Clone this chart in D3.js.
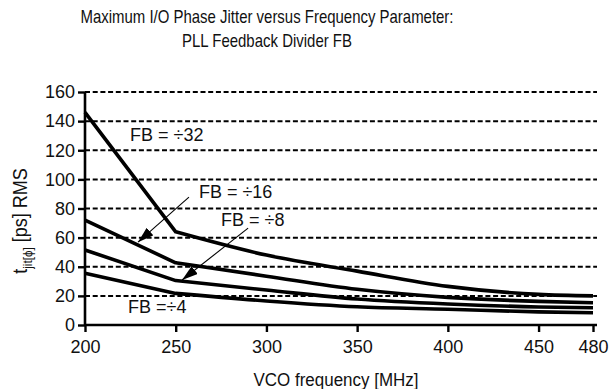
<!DOCTYPE html>
<html>
<head>
<meta charset="utf-8">
<script src="https://cdn.jsdelivr.net/npm/d3@7"></script>
<style>
  body { margin: 0; background: #fff; }
  text { font-family: "Liberation Sans", Arial, sans-serif; fill: #111; }
</style>
</head>
<body>
<div id="chart"></div>
<script>
// Dados
var freq = [200, 250, 300, 350, 400, 450, 480];
var fb32 = [146, 64, 48, 37, 26.5, 21, 20];
var fb16 = [72, 42.7, 33.5, 24.5, 19, 16.2, 15.3];
var fb8 = [51.5, 30.5, 24, 17.8, 14.4, 12.4, 11.8];
var fb4 = [35.5, 21.7, 16.5, 12.5, 10.8, 9, 8.4];

var xTicks = [200, 250, 300, 350, 400, 450, 480];
var yTicks = [0, 20, 40, 60, 80, 100, 120, 140, 160];

// rótulos e setas (em unidades dos dados)
var labels = [
  { text: "FB = \u00F732", x: 224.8, y: 126.2 },
  { text: "FB = \u00F716", x: 262.8, y: 87.1 },
  { text: "FB = \u00F78", x: 275, y: 68.1 },
  { text: "FB =\u00F74", x: 223.7, y: 8.2 }
];
var arrows = [
  { x1: 257.3, y1: 87.8, x2: 229.2, y2: 56.9 },
  { x1: 289.9, y1: 66.5, x2: 253.5, y2: 30.9 }
];

var svgWidth = 609, svgHeight = 389;
var margin = { top: 92, right: 16, bottom: 64, left: 85 };
var width = 593 - margin.left;
var height = 325 - margin.top;

var svg = d3.select('#chart').append('svg')
  .attr('width', svgWidth)
  .attr('height', svgHeight);

// Título (fonte estreita simulada com textLength)
svg.append('text')
  .attr('x', 267).attr('y', 23)
  .attr('text-anchor', 'middle')
  .attr('textLength', 373).attr('lengthAdjust', 'spacingAndGlyphs')
  .style('font-size', '19px')
  .text('Maximum I/O Phase Jitter versus Frequency Parameter:');
svg.append('text')
  .attr('x', 267).attr('y', 47)
  .attr('text-anchor', 'middle')
  .attr('textLength', 170).attr('lengthAdjust', 'spacingAndGlyphs')
  .style('font-size', '19px')
  .text('PLL Feedback Divider FB');

var g = svg.append('g')
  .attr('transform', 'translate(' + margin.left + ',' + margin.top + ')');

var x = d3.scaleLinear().domain([200, 480]).range([0, width]);
var y = d3.scaleLinear().domain([0, 160]).range([height, 0]);

// Grade tracejada
g.append('g')
  .selectAll('line')
  .data(yTicks.filter(d => d > 0))
  .enter().append('line')
  .attr('x1', 0).attr('x2', width + 4)
  .attr('y1', d => y(d)).attr('y2', d => y(d))
  .attr('stroke', '#000')
  .attr('stroke-width', 2)
  .attr('stroke-dasharray', '5,2.7');

// Eixos
var xAxis = g.append('g')
  .attr('transform', 'translate(0,' + height + ')')
  .call(d3.axisBottom(x).tickValues(xTicks).tickSize(7).tickPadding(8).tickFormat(d3.format('d')));
var yAxis = g.append('g')
  .call(d3.axisLeft(y).tickValues(yTicks).tickSize(7).tickPadding(3));

[xAxis, yAxis].forEach(function (a) {
  a.select('.domain').attr('stroke', '#000').attr('stroke-width', 2.6);
  a.selectAll('.tick line').attr('stroke', '#000').attr('stroke-width', 2.4);
  a.selectAll('.tick text').style('font-size', '18px').attr('fill', '#111');
  a.attr('font-family', null);
});
xAxis.select('.domain').attr('d', 'M0,0H' + (width + 4));
yAxis.select('.domain').attr('d', 'M0,' + height + 'V0');

// Curvas: primeiro trecho reto, depois suavizado
var curve = d3.line()
  .x(d => x(d[0]))
  .y(d => y(d[1]))
  .curve(d3.curveMonotoneX);

[fb32, fb16, fb8, fb4].forEach(function (serie) {
  var pts = freq.map((f, i) => [f, serie[i]]);
  var tail = curve(pts.slice(1)).replace(/^M/, 'L');
  g.append('path')
    .attr('fill', 'none')
    .attr('stroke', '#000')
    .attr('stroke-width', 3.6)
    .attr('stroke-linejoin', 'round')
    .attr('d', 'M' + x(pts[0][0]) + ',' + y(pts[0][1]) + tail);
});

// Setas
svg.append('defs').append('marker')
  .attr('id', 'seta')
  .attr('viewBox', '0 0 16 10')
  .attr('refX', 16).attr('refY', 5)
  .attr('markerWidth', 16).attr('markerHeight', 10)
  .attr('markerUnits', 'userSpaceOnUse')
  .attr('orient', 'auto')
  .append('path')
  .attr('d', 'M0,0 L16,5 L0,10 Z')
  .attr('fill', '#000');

g.selectAll('.seta')
  .data(arrows)
  .enter().append('line')
  .attr('x1', d => x(d.x1)).attr('y1', d => y(d.y1))
  .attr('x2', d => x(d.x2)).attr('y2', d => y(d.y2))
  .attr('stroke', '#000')
  .attr('stroke-width', 1.1)
  .attr('marker-end', 'url(#seta)');

g.selectAll('.rotulo')
  .data(labels)
  .enter().append('text')
  .attr('x', d => x(d.x))
  .attr('y', d => y(d.y))
  .style('font-size', '18px')
  .text(d => d.text);

// Títulos dos eixos
svg.append('text')
  .attr('x', 336).attr('y', 386)
  .attr('text-anchor', 'middle')
  .attr('textLength', 165).attr('lengthAdjust', 'spacingAndGlyphs')
  .style('font-size', '18px')
  .text('VCO frequency [MHz]');

var yt = svg.append('text')
  .attr('transform', 'translate(27,221) rotate(-90) scale(0.9,1)')
  .attr('text-anchor', 'middle')
  .style('font-size', '20px');
yt.append('tspan').text('t');
yt.append('tspan').attr('dy', 5).style('font-size', '13px').text('jit[\u03D5]');
yt.append('tspan').attr('dy', -5).text(' [ps] RMS');
</script>
</body>
</html>
